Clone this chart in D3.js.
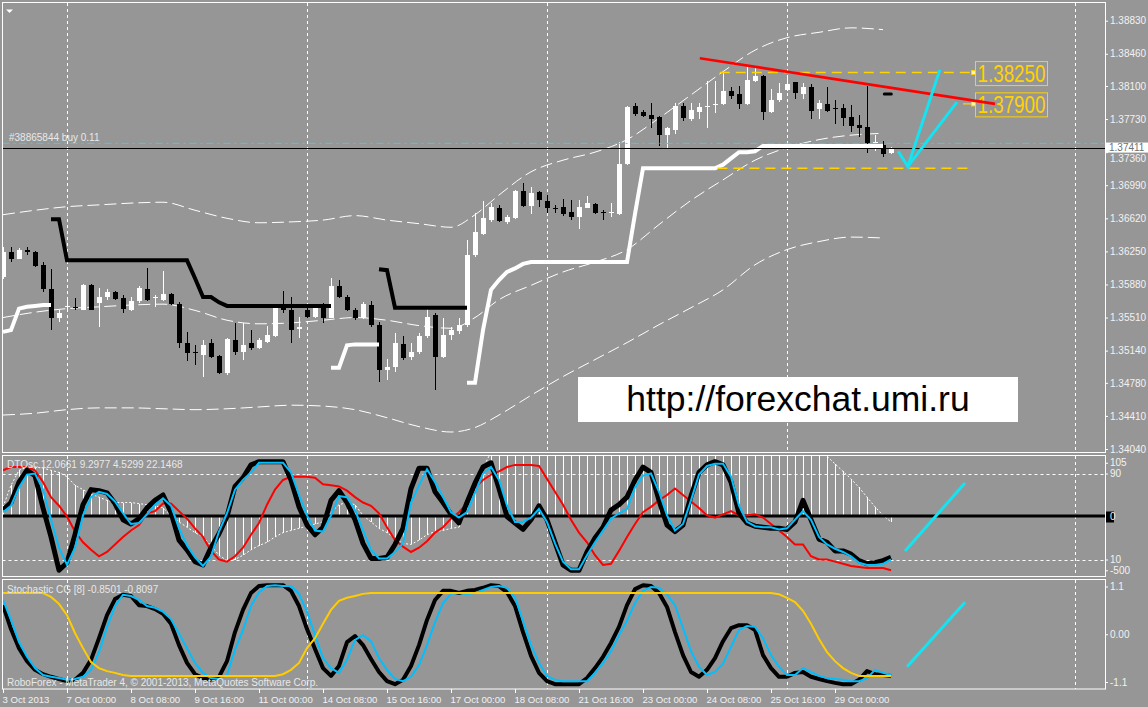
<!DOCTYPE html>
<html><head><meta charset="utf-8">
<script src="https://cdn.jsdelivr.net/npm/d3@7/dist/d3.min.js"></script>
<style>
html,body{margin:0;padding:0;background:#969696;overflow:hidden}
svg{display:block}
text{font-family:"Liberation Sans",Arial,sans-serif}
</style></head><body>
<svg id="chart" width="1148" height="707"></svg>
<script>
// ================= DATA =================
const open=[1.3596,1.3624,1.3617,1.3627,1.3624,1.3610,1.3583,1.3550,1.3563,1.3563,
1.3560,1.3587,1.3567,1.3574,1.3580,1.3573,1.3560,1.3569,1.3583,1.3573,
1.3571,1.3577,1.3566,1.3522,1.3512,1.3509,1.3522,1.3508,1.3489,1.3526,
1.3513,1.3522,1.3517,1.3524,1.3530,1.3565,1.3559,1.3538,1.3560,1.3552,
1.3563,1.3551,1.3586,1.3574,1.3559,1.3550,1.3565,1.3543,1.3492,1.3496,
1.3521,1.3507,1.3512,1.3530,1.3554,1.3507,1.3532,1.3536,1.3543,1.3621,
1.3645,1.3660,1.3673,1.3658,1.3662,1.3692,1.3676,1.3691,1.3681,1.3673,
1.3675,1.3669,1.3663,1.3674,1.3678,1.3669,1.3668,1.3667,1.3723,1.3788,
1.3781,1.3778,1.3775,1.3755,1.3761,1.3788,1.3773,1.3781,1.3786,1.3789,
1.3790,1.3804,1.3801,1.3790,1.3816,1.3821,1.3781,1.3794,1.3806,1.3814,
1.3801,1.3809,1.3784,1.3790,1.3785,1.3785,1.3775,1.3766,1.3764,1.3746,
1.3744,1.3735];
const high=[1.3630,1.3630,1.3629,1.3630,1.3625,1.3613,1.3605,1.3559,1.3571,1.3573,
1.3588,1.3589,1.3584,1.3583,1.3581,1.3576,1.3574,1.3586,1.3606,1.3576,
1.3603,1.3579,1.3568,1.3535,1.3520,1.3526,1.3527,1.3509,1.3528,1.3545,
1.3545,1.3537,1.3528,1.3542,1.3566,1.3581,1.3574,1.3552,1.3564,1.3564,
1.3567,1.3595,1.3593,1.3576,1.3562,1.3568,1.3569,1.3546,1.3505,1.3534,
1.3530,1.3522,1.3534,1.3564,1.3556,1.3550,1.3541,1.3550,1.3638,1.3668,
1.3681,1.3679,1.3677,1.3666,1.3694,1.3702,1.3697,1.3692,1.3688,1.3677,
1.3684,1.3682,1.3682,1.3687,1.3679,1.3671,1.3679,1.3747,1.3788,1.3791,
1.3783,1.3791,1.3776,1.3764,1.3791,1.3791,1.3791,1.3791,1.3816,1.3816,
1.3826,1.3809,1.3810,1.3832,1.3830,1.3822,1.3807,1.3813,1.3821,1.3815,
1.3813,1.3812,1.3794,1.3809,1.3794,1.3790,1.3789,1.3778,1.3810,1.3755,
1.3748,1.3742];
const low=[1.3594,1.3613,1.3616,1.3621,1.3608,1.3580,1.3537,1.3546,1.3559,1.3559,
1.3559,1.3559,1.3541,1.3571,1.3571,1.3556,1.3558,1.3567,1.3570,1.3563,
1.3570,1.3565,1.3517,1.3502,1.3498,1.3485,1.3506,1.3488,1.3487,1.3509,
1.3504,1.3515,1.3516,1.3522,1.3529,1.3556,1.3522,1.3528,1.3550,1.3551,
1.3545,1.3550,1.3573,1.3558,1.3548,1.3549,1.3541,1.3479,1.3481,1.3490,
1.3504,1.3504,1.3510,1.3528,1.3470,1.3506,1.3526,1.3533,1.3541,1.3619,
1.3643,1.3658,1.3658,1.3656,1.3661,1.3675,1.3667,1.3675,1.3668,1.3668,
1.3665,1.3660,1.3650,1.3673,1.3667,1.3660,1.3664,1.3666,1.3722,1.3776,
1.3775,1.3763,1.3743,1.3740,1.3756,1.3771,1.3771,1.3773,1.3763,1.3780,
1.3789,1.3795,1.3784,1.3789,1.3815,1.3772,1.3780,1.3792,1.3804,1.3795,
1.3795,1.3773,1.3773,1.3781,1.3768,1.3765,1.3759,1.3753,1.3735,1.3737,
1.3731,1.3734];
const close=[1.3624,1.3616,1.3627,1.3624,1.3609,1.3583,1.3551,1.3556,1.3564,1.3562,
1.3587,1.3560,1.3574,1.3580,1.3572,1.3561,1.3570,1.3584,1.3571,1.3574,
1.3577,1.3566,1.3522,1.3511,1.3511,1.3520,1.3507,1.3489,1.3527,1.3513,
1.3520,1.3517,1.3526,1.3532,1.3563,1.3559,1.3537,1.3540,1.3552,1.3562,
1.3551,1.3586,1.3574,1.3559,1.3550,1.3566,1.3543,1.3492,1.3496,1.3522,
1.3506,1.3512,1.3530,1.3552,1.3507,1.3532,1.3537,1.3543,1.3621,1.3647,
1.3662,1.3675,1.3659,1.3663,1.3692,1.3676,1.3690,1.3682,1.3673,1.3672,
1.3667,1.3663,1.3675,1.3679,1.3668,1.3668,1.3669,1.3723,1.3787,1.3779,
1.3776,1.3773,1.3755,1.3763,1.3788,1.3774,1.3783,1.3787,1.3788,1.3790,
1.3804,1.3799,1.3790,1.3817,1.3821,1.3781,1.3794,1.3802,1.3812,1.3802,
1.3809,1.3782,1.3791,1.3782,1.3784,1.3774,1.3765,1.3763,1.3746,1.3747,
1.3734,1.37411];

// black trailing-stop line (null = not drawn)
const blackStop=[null,null,null,null,null,null,1.3661,1.3661,1.3615,1.3615,
1.3615,1.3615,1.3615,1.3615,1.3615,1.3615,1.3615,1.3615,1.3615,1.3615,
1.3615,1.3615,1.3615,1.3615,1.3595,1.3574,1.3574,1.3568,1.3564,1.3564,
1.3564,1.3564,1.3564,1.3564,1.3564,1.3564,1.3564,1.3564,1.3564,1.3564,
1.3564,1.3564,null,null,null,null,null,1.3605,1.3604,1.3562,
1.3562,1.3562,1.3562,1.3562,1.3562,1.3562,1.3562,1.3562,1.3562,null,
null,null,null,null,null,null,null,null,null,null,
null,null,null,null,null,null,null,null,null,null,
null,null,null,null,null,null,null,null,null,null,
null,null,null,null,null,null,null,null,null,null,
null,null,null,null,null,null,null,null,null,null,
null,null];
// white trailing-stop line
const whiteStop=[1.3535,1.3537,1.3561,1.3563,1.3564,1.3565,1.3565,null,null,null,
null,null,null,null,null,null,null,null,null,null,
null,null,null,null,null,null,null,null,null,null,
null,null,null,null,null,null,null,null,null,null,
null,1.3495,1.3495,1.3520,1.3521,1.3521,1.3521,1.3521,null,null,
null,null,null,null,null,null,null,null,1.3478,1.3478,
1.3537,1.3582,1.3593,1.3602,1.3606,1.3611,1.3613,1.3613,1.3613,1.3613,
1.3613,1.3613,1.3613,1.3613,1.3613,1.3613,1.3613,1.3613,1.3613,1.3667,
1.3718,1.3718,1.3718,1.3718,1.3718,1.3718,1.3718,1.3718,1.3718,1.3718,
1.3722,1.3729,1.3736,1.3736,1.3737,1.3743,1.3743,1.3743,1.3743,1.3743,
1.3743,1.3743,1.3743,1.3743,1.3743,1.3743,1.3743,1.3743,1.3743,1.3743,
1.3743,null];

// envelope bands (sampled at bar indexes)
const bandBars=[0,4,8,12,16,20,24,28,32,36,40,44,48,52,56,59,62,66,70,74,78,82,86,90,94,98,102,106,110];
const bandUpper=[1.3666,1.3671,1.3675,1.3677,1.3679,1.3680,1.3671,1.3662,1.3657,1.3658,1.3660,1.3665,1.3660,1.3656,1.3652,1.3666,1.3688,1.3714,1.3727,1.3736,1.3750,1.3774,1.3800,1.3826,1.3850,1.3864,1.3870,1.3875,1.3873];
const bandMid=[1.3551,1.3557,1.3561,1.3563,1.3565,1.3566,1.3559,1.3548,1.3544,1.3545,1.3548,1.3551,1.3548,1.3542,1.3539,1.3551,1.3571,1.3587,1.3602,1.3613,1.3627,1.3655,1.3682,1.3705,1.3727,1.3741,1.3750,1.3755,1.3757];
const bandLower=[1.3442,1.3444,1.3448,1.3450,1.3450,1.3449,1.3448,1.3449,1.3451,1.3453,1.3452,1.3448,1.3439,1.3429,1.3423,1.3428,1.3442,1.3464,1.3485,1.3504,1.3523,1.3543,1.3562,1.3582,1.3610,1.3627,1.3636,1.3641,1.3640];

const priceTicks=[1.38830,1.38460,1.38100,1.37730,1.37360,1.36990,1.36620,1.36250,1.35880,1.35510,1.35140,1.34780,1.34410,1.34040];
const timeLabels=["3 Oct 2013","7 Oct 00:00","8 Oct 08:00","9 Oct 16:00","11 Oct 00:00","14 Oct 08:00","15 Oct 16:00","17 Oct 00:00","18 Oct 08:00","21 Oct 16:00","23 Oct 00:00","24 Oct 08:00","25 Oct 16:00","29 Oct 00:00"];
const timeLabelBars=[0,8,16,24,32,40,48,56,64,72,80,88,96,104];
const weekGridBars=[8,38,68,98,134];

const bidPrice=1.37411;
const orderPrice=1.37458;
const orderLabel="#38865844 buy 0.11";
const levels=[{price:1.38250,startBar:89.6,endBar:121,label:"1.38250"},
              {price:1.37900,startBar:120,endBar:121,label:"1.37900"},
              {price:1.37180,startBar:89.3,endBar:120.9,label:null}];
const trendBars=[87.1,124], trendPrices=[1.3841,1.3790];
const arrowMainA=[[111.9,1.3737],[113.1,1.3720],[117.1,1.3828]];
const arrowMainB=[[113.1,1.3720],[119.25,1.3792]];
const markerBar=110.6, markerPrice=1.3801;
const watermark="http://forexchat.umi.ru";

// DTOsc sub-window
const dtoTitle="DTOsc 12.0661 9.2977 4.5299 22.1468";
const dtoMain=[56,63,82,93,88,58,31,0,7,33,61,75,74,72,62,47,43,48,58,65,
70,54,28,19,8,5,21,34,50,78,86,98,101,101,101,101,84,59,42,33,
40,65,74,63,47,25,11,11,12,24,39,76,95,95,73,63,52,44,63,81,
96,100,76,50,44,38,47,60,47,26,5,0,0,17,30,40,56,61,68,84,
96,91,65,42,36,42,69,91,98,101,98,82,53,44,41,40,39,39,38,45,
65,47,29,26,18,18,15,9,6,7,9,12];
const dtoSignal=[54,60,77,89,90,75,47,21,5,21,51,68,73,71,64,53,43,44,52,61,
67,60,39,23,12,4,13,36,53,75,84,91,100,100,100,100,91,70,51,37,
36,51,69,68,56,37,19,11,11,17,25,63,79,94,82,68,54,49,54,72,
90,96,84,60,45,45,49,57,45,25,8,1,1,14,26,37,48,53,57,77,
88,90,73,51,37,43,65,89,97,99,99,87,60,45,41,40,40,38,39,47,
55,47,31,24,20,17,13,7,5,5,6,10];
const dtoSlow=[93,96,96,96,93,82,68,60,50,36,26,19,13,17,24,31,37,42,53,55,
62,62,55,48,39,31,18,10,8,13,21,33,44,61,75,84,87,87,87,86,
80,79,78,74,68,63,60,53,40,28,22,17,21,27,35,40,48,54,62,77,
84,89,92,96,98,98,98,97,85,73,61,47,35,26,14,5,6,18,31,43,
54,59,65,70,76,70,64,58,51,49,52,55,51,51,52,49,43,37,31,24,
24,13,10,10,8,6,4,3,2,2,2,0];
const dtoHist=[59,79,93,96,96,95,93,91,87,79,75,71,68,65,63,63,63,62,61,60,
58,51,45,40,35,31,23,14,9,10,14,19,23,26,31,35,37,39,41,43,
45,54,61,63,61,51,45,39,35,30,25,24,28,33,36,37,39,40,61,79,
95,110,110,110,110,110,110,110,110,110,110,110,110,110,110,110,110,110,110,110,
110,110,110,110,110,110,110,110,110,110,110,110,110,110,110,110,110,110,110,110,
110,110,110,106,99,92,85,77,68,59,51,45];
const dtoTickValues=[100,90,50,10,0];
const dtoTickLabels=["105","90","0","10","-500"];
const arrowMid=[[112.75,17.9],[120.25,81.2]];

// Stochastic CG sub-window
const stochTitle="Stochastic CG [8] -0.8501 -0.8097";
const stochMain=[0.67,0.12,-0.32,-0.62,-0.82,-0.92,-0.98,-1.03,-1.08,-1.05,
-0.89,-0.59,-0.09,0.44,0.81,0.91,0.88,0.67,0.65,0.58,
0.47,0.24,-0.25,-0.66,-0.92,-1.01,-1.05,-0.98,-0.62,0.05,
0.56,0.95,1.11,1.13,1.13,1.13,1.00,0.65,0.12,-0.34,
-0.78,-0.96,-0.73,-0.18,-0.04,-0.25,-0.57,-0.87,-1.08,-1.15,
-1.05,-0.73,-0.25,0.33,0.79,1.00,1.00,0.95,1.00,1.02,
1.07,1.13,1.11,0.97,0.65,0.05,-0.50,-0.89,-1.08,-1.15,
-1.15,-1.15,-1.15,-1.01,-0.78,-0.52,-0.20,0.17,0.67,1.04,
1.13,1.11,0.95,0.63,0.05,-0.48,-0.87,-0.98,-0.82,-0.55,
-0.16,0.14,0.21,0.21,0.10,-0.48,-0.78,-0.98,-0.98,-0.89,
-0.87,-0.98,-1.03,-1.08,-1.12,-1.15,-1.15,-1.05,-0.85,-0.92,
-0.94,-0.96];
const stochSignal=[0.79,0.33,-0.18,-0.52,-0.78,-0.94,-0.98,-1.01,-1.05,-1.03,
-0.98,-0.82,-0.41,0.17,0.65,0.91,0.88,0.79,0.65,0.61,
0.52,0.35,0.01,-0.32,-0.66,-0.89,-1.01,-1.03,-0.94,-0.36,
0.10,0.65,0.97,1.11,1.13,1.11,1.11,0.93,0.52,-0.02,
-0.55,-0.78,-0.89,-0.59,-0.13,-0.02,-0.16,-0.55,-0.82,-1.03,
-1.08,-0.98,-0.71,-0.25,0.28,0.72,0.93,0.95,0.93,0.95,
1.02,1.09,1.11,1.07,0.84,0.31,-0.25,-0.66,-0.96,-1.05,
-1.08,-1.08,-1.08,-1.08,-0.89,-0.66,-0.39,-0.02,0.31,0.72,
1.00,1.09,1.07,0.91,0.67,0.14,-0.39,-0.75,-0.94,-0.87,
-0.68,-0.29,0.10,0.19,0.17,-0.09,-0.48,-0.75,-0.94,-0.94,
-0.78,-0.87,-0.96,-1.01,-1.03,-1.05,-1.08,-1.08,-1.01,-0.82,
-0.89,-0.94];
const stochTrend=[0.95,0.95,0.95,0.95,0.95,0.95,0.86,0.70,0.44,0.03,
-0.32,-0.64,-0.78,-0.85,-0.89,-0.94,-0.96,-0.96,-0.96,-0.96,
-0.96,-0.96,-0.96,-0.96,-0.96,-0.96,-0.96,-0.96,-0.96,-0.96,
-0.96,-0.96,-0.96,-0.96,-0.96,-0.92,-0.82,-0.66,-0.32,-0.09,
0.24,0.56,0.77,0.84,0.88,0.93,0.95,0.95,0.95,0.95,
0.95,0.95,0.95,0.95,0.95,0.95,0.95,0.95,0.95,0.95,
0.95,0.95,0.95,0.95,0.95,0.95,0.95,0.95,0.95,0.95,
0.95,0.95,0.95,0.95,0.95,0.95,0.95,0.95,0.95,0.95,
0.95,0.95,0.95,0.95,0.95,0.95,0.95,0.95,0.95,0.95,
0.95,0.95,0.95,0.95,0.95,0.95,0.95,0.92,0.84,0.74,
0.54,0.24,-0.11,-0.41,-0.62,-0.78,-0.89,-0.96,-0.96,-0.96,
-0.96,-0.96];
const stochTickValues=[1.1,0,-1.1];
const stochTickLabels=["1.1","0.00","-1.1"];
const arrowBot=[[113,-0.75],[120.25,0.74]];
const footer="RoboForex - MetaTrader 4, © 2001-2013, MetaQuotes Software Corp.";

// ================= LAYOUT / SCALES =================
const L=2.5,R=1105.5;
const P={main:[2.5,452.5],mid:[455.5,576.5],bot:[579.5,689]};
const x=d3.scaleLinear().domain([0,137.75]).range([3,1105]);
const yP=d3.scaleLinear().domain([1.34040,1.38830]).range([449,20.7]);
const yM=d3.scaleLinear().domain([10,90]).range([559.5,473.5]);
const yB=d3.scaleLinear().domain([-1.1,1.1]).range([682,586.5]);
const TXT="#f2f2f2", CYAN="#14e3f2", DSB="#00bfff", GOLD="#ffd200";

const svg=d3.select("#chart");
svg.append("rect").attr("width",1148).attr("height",707).attr("fill","#969696");
const defs=svg.append("defs");
Object.entries(P).forEach(([k,[t,b]])=>{
  defs.append("clipPath").attr("id","c_"+k).append("rect")
    .attr("x",L).attr("y",t).attr("width",R-L).attr("height",b-t);
});
const gMain=svg.append("g").attr("clip-path","url(#c_main)");
const gMid=svg.append("g").attr("clip-path","url(#c_mid)");
const gBot=svg.append("g").attr("clip-path","url(#c_bot)");

// vertical dashed grid
[[gMain,"main"],[gMid,"mid"],[gBot,"bot"]].forEach(([g,k])=>{
  g.selectAll(null).data(weekGridBars).enter().append("line")
   .attr("x1",d=>x(d)+0.5).attr("x2",d=>x(d)+0.5)
   .attr("y1",P[k][0]).attr("y2",P[k][1])
   .attr("stroke","#fff").attr("stroke-dasharray","3,3").attr("shape-rendering","crispEdges");
});

// ---------- main panel ----------
const bandLine=d3.line().curve(d3.curveMonotoneX).x((d,i)=>x(bandBars[i])).y(d=>yP(d));
[bandUpper,bandMid,bandLower].forEach(b=>{
  gMain.append("path").attr("d",bandLine(b)).attr("fill","none")
   .attr("stroke","#fff").attr("stroke-width",1).attr("stroke-dasharray","12,5");
});

// candles
const idx=d3.range(open.length);
const gc=gMain.append("g").attr("shape-rendering","crispEdges");
idx.forEach(i=>{
  const up=close[i]>=open[i], col=up?"#fff":"#000";
  const cx=x(i);
  gc.append("line").attr("x1",cx+0.5).attr("x2",cx+0.5)
    .attr("y1",yP(high[i])).attr("y2",yP(low[i])).attr("stroke",col);
  const y1=yP(Math.max(open[i],close[i])), y2=yP(Math.min(open[i],close[i]));
  gc.append("rect").attr("x",cx-2).attr("width",5)
    .attr("y",y1).attr("height",Math.max(1,y2-y1)).attr("fill",col);
});

// trailing stop lines
const stopLine=d3.line().defined(d=>d!=null).x((d,i)=>x(i)).y(d=>yP(d));
gMain.append("path").attr("d",stopLine(blackStop)).attr("fill","none").attr("stroke","#000").attr("stroke-width",4);
gMain.append("path").attr("d",stopLine(whiteStop)).attr("fill","none").attr("stroke","#fff").attr("stroke-width",4);

// order line & bid line
gMain.append("line").attr("x1",L).attr("x2",R).attr("y1",yP(orderPrice)).attr("y2",yP(orderPrice))
  .attr("stroke","#2ad8e8").attr("stroke-dasharray","7,4,2,4");
gMain.append("line").attr("x1",L).attr("x2",R).attr("y1",Math.round(yP(bidPrice))+0.5).attr("y2",Math.round(yP(bidPrice))+0.5)
  .attr("stroke","#000").attr("stroke-width",1);
gMain.append("text").attr("x",9).attr("y",yP(orderPrice)-2.5).attr("fill","#e8e8e8")
  .attr("font-size",10).text(orderLabel);

// level lines & labels
levels.forEach(l=>{
  const yy=yP(l.price);
  gMain.append("line").attr("x1",x(l.startBar)).attr("x2",x(l.endBar)).attr("y1",yy).attr("y2",yy)
    .attr("stroke",GOLD).attr("stroke-width",1.4).attr("stroke-dasharray","10,6");
  if(l.label){
    gMain.append("rect").attr("x",x(l.endBar)+0.5).attr("y",yy-2).attr("width",4).attr("height",4)
      .attr("fill","#fff7b0").attr("stroke",GOLD).attr("stroke-width",1);
    gMain.append("rect").attr("x",x(l.endBar)+4.5).attr("y",yy-11).attr("width",72).attr("height",24)
      .attr("fill","none").attr("stroke",GOLD).attr("stroke-width",1);
    gMain.append("text").attr("x",x(l.endBar)+40.5).attr("y",yy+9.5).attr("text-anchor","middle")
      .attr("font-family","'Liberation Sans Narrow','Liberation Sans',Arial").attr("font-size",24)
      .attr("textLength",68).attr("lengthAdjust","spacingAndGlyphs")
      .attr("fill",GOLD).text(l.label);
  }
});

// red trend line
gMain.append("line").attr("x1",x(trendBars[0])).attr("y1",yP(trendPrices[0]))
  .attr("x2",x(trendBars[1])).attr("y2",yP(trendPrices[1]))
  .attr("stroke","#ff0000").attr("stroke-width",2.6);

// marker dash
gMain.append("rect").attr("x",x(markerBar)-5).attr("y",yP(markerPrice)-1.5).attr("width",10).attr("height",3)
  .attr("rx",1.5).attr("fill","#000");

// cyan hand-drawn arrows
const pLine=d3.line().x(d=>x(d[0])).y(d=>yP(d[1]));
[arrowMainA,arrowMainB].forEach(a=>{
  gMain.append("path").attr("d",pLine(a)).attr("fill","none").attr("stroke",CYAN)
    .attr("stroke-width",3).attr("stroke-linejoin","miter");
});

// watermark
gMain.append("rect").attr("x",578).attr("y",377).attr("width",440).attr("height",45).attr("fill","#fff");
gMain.append("text").attr("x",798).attr("y",411).attr("text-anchor","middle").attr("font-size",35.5)
  .attr("fill","#000").text(watermark);

// top-left triangle
svg.append("path").attr("d","M6,9.5 L13,9.5 L9.5,13 Z").attr("fill","#fff");

// ---------- DTOsc panel ----------
gMid.append("g").selectAll("line").data(idx).enter().append("line")
  .attr("x1",i=>x(i)+0.5).attr("x2",i=>x(i)+0.5)
  .attr("y1",yM(50)).attr("y2",i=>yM(dtoHist[i]))
  .attr("stroke","#fff").attr("shape-rendering","crispEdges");
gMid.append("path").attr("d",d3.line().x((d,i)=>x(i)).y(d=>yM(d))(dtoHist))
  .attr("fill","none").attr("stroke","#fff").attr("stroke-dasharray","2,2");
[90,10].forEach(v=>{
  gMid.append("line").attr("x1",L).attr("x2",R).attr("y1",Math.round(yM(v))+0.5).attr("y2",Math.round(yM(v))+0.5)
    .attr("stroke","#fff").attr("stroke-dasharray","3,3");
});
gMid.append("line").attr("x1",L).attr("x2",R).attr("y1",516).attr("y2",516)
  .attr("stroke","#000").attr("stroke-width",3);
const mLine=d3.line().x((d,i)=>x(i)).y(d=>yM(d));
gMid.append("path").attr("d",mLine(dtoSlow)).attr("fill","none").attr("stroke","#ff0000").attr("stroke-width",2);
gMid.append("path").attr("d",mLine(dtoMain)).attr("fill","none").attr("stroke","#000").attr("stroke-width",5).attr("stroke-linejoin","round");
gMid.append("path").attr("d",mLine(dtoSignal)).attr("fill","none").attr("stroke",DSB).attr("stroke-width",2);
gMid.append("text").attr("x",7).attr("y",467.5).attr("fill","#e8e8e8").attr("font-size",10).text(dtoTitle);
gMid.append("path").attr("d",d3.line().x(d=>x(d[0])).y(d=>yM(d[1]))(arrowMid))
  .attr("stroke",CYAN).attr("stroke-width",3).attr("fill","none");

// ---------- Stochastic CG panel ----------
const bLine=d3.line().x((d,i)=>x(i)).y(d=>yB(d));
gBot.append("path").attr("d",bLine(stochMain)).attr("fill","none").attr("stroke","#000").attr("stroke-width",4).attr("stroke-linejoin","round");
gBot.append("path").attr("d",bLine(stochSignal)).attr("fill","none").attr("stroke",DSB).attr("stroke-width",2);
gBot.append("path").attr("d",bLine(stochTrend)).attr("fill","none").attr("stroke","#ffcc00").attr("stroke-width",2);
gBot.append("text").attr("x",7).attr("y",592.5).attr("fill","#e8e8e8").attr("font-size",10).text(stochTitle);
gBot.append("text").attr("x",7).attr("y",685.5).attr("fill","#e8e8e8").attr("font-size",10).text(footer);
gBot.append("path").attr("d",d3.line().x(d=>x(d[0])).y(d=>yB(d[1]))(arrowBot))
  .attr("stroke",CYAN).attr("stroke-width",3).attr("fill","none");

// ---------- frames ----------
Object.values(P).forEach(([t,b])=>{
  svg.append("rect").attr("x",L).attr("y",t).attr("width",R-L).attr("height",b-t)
    .attr("fill","none").attr("stroke","#fff").attr("stroke-width",1);
});

// ---------- axes ----------
function styleAxis(g,fs){
  g.select(".domain").remove();
  g.selectAll(".tick line").attr("stroke","#fff");
  g.selectAll(".tick text").attr("fill",TXT).attr("font-size",fs||10)
    .attr("font-family","'Liberation Sans',Arial,sans-serif");
}
const axP=svg.append("g").attr("transform",`translate(${R-0.5},0)`)
  .call(d3.axisRight(yP).tickValues(priceTicks).tickFormat(d3.format(".5f")).tickSize(3).tickPadding(2));
styleAxis(axP);
// label that sits under the bid-price box: push it just below the box
axP.selectAll(".tick").filter(d=>Math.abs(d-1.3736)<1e-6).select("text").attr("dy","0.95em");
const axM=svg.append("g").attr("transform",`translate(${R-0.5},0)`)
  .call(d3.axisRight(yM).tickValues(dtoTickValues).tickFormat((d,i)=>dtoTickLabels[i]).tickSize(3).tickPadding(2));
styleAxis(axM);
const axB=svg.append("g").attr("transform",`translate(${R-0.5},0)`)
  .call(d3.axisRight(yB).tickValues(stochTickValues).tickFormat((d,i)=>stochTickLabels[i]).tickSize(3).tickPadding(2));
styleAxis(axB);
// zero label box
axM.selectAll(".tick").filter(d=>d===50).insert("rect","text")
  .attr("x",1).attr("y",-5.5).attr("width",8).attr("height",11).attr("fill","#000");

const axT=svg.append("g").attr("transform",`translate(0,${P.bot[1]})`)
  .call(d3.axisBottom(x).tickValues(timeLabelBars).tickFormat((d,i)=>timeLabels[i]).tickSize(4).tickPadding(3));
styleAxis(axT,9.6);
axT.selectAll(".tick text").attr("text-anchor","start").attr("dx",-1);

// bid price box
const by=yP(bidPrice);
svg.append("rect").attr("x",1106).attr("y",by-5).attr("width",42).attr("height",10).attr("fill","#fff");
svg.append("text").attr("x",1109).attr("y",by+3.5).attr("font-size",10).attr("fill","#707070").text(bidPrice.toFixed(5));
</script>
</body></html>
